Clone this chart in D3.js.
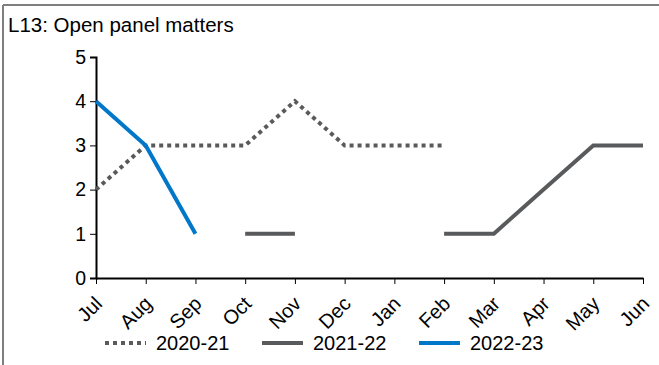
<!DOCTYPE html>
<html>
<head>
<meta charset="utf-8">
<script src="https://cdn.jsdelivr.net/npm/d3@7"></script>
<style>
  body { margin: 0; background: #fff; }
  text { font-family: "Liberation Sans", Arial, sans-serif; fill: #000; }
</style>
</head>
<body>
<svg id="chart" width="659" height="365"></svg>
<script>
const title = "L13: Open panel matters";
const months = ["Jul","Aug","Sep","Oct","Nov","Dec","Jan","Feb","Mar","Apr","May","Jun"];
const yTicks = [0, 1, 2, 3, 4, 5];
const s2020 = [2, 3, 3, 3, 4, 3, 3, 3, null, null, null, null];
const s2021 = [null, null, null, 1, 1, null, null, 1, 1, 2, 3, 3];
const s2022 = [4, 3, 1, null, null, null, null, null, null, null, null, null];
const seriesNames = ["2020-21", "2021-22", "2022-23"];

const series = [
  { name: seriesNames[0], values: s2020, color: "#595a5c", dash: "4,4" },
  { name: seriesNames[1], values: s2021, color: "#595a5c", dash: null },
  { name: seriesNames[2], values: s2022, color: "#0077c8", dash: null }
];

const svg = d3.select("#chart");

// frame
svg.append("line").attr("x1", 3).attr("x2", 659).attr("y1", 5).attr("y2", 5)
  .attr("stroke", "#7f7f7f").attr("stroke-width", 2);
svg.append("line").attr("x1", 3).attr("x2", 3).attr("y1", 5).attr("y2", 365)
  .attr("stroke", "#7f7f7f").attr("stroke-width", 2);

svg.append("text").attr("x", 8).attr("y", 32).attr("font-size", 20.5).text(title);

const x = d3.scalePoint().domain(months).range([96, 643]);
const y = d3.scaleLinear().domain([0, 5]).range([278, 57]);

// y axis
const yAxis = svg.append("g").attr("transform", "translate(96,0)")
  .call(d3.axisLeft(y).tickValues(yTicks).tickFormat(d3.format("d")).tickSize(6).tickPadding(4));
yAxis.select(".domain").attr("stroke", "#000").attr("stroke-width", 2);
yAxis.selectAll(".tick line").attr("stroke", "#000");
yAxis.selectAll(".tick text").attr("font-size", 19.5).attr("font-family", "Liberation Sans, Arial, sans-serif").attr("fill", "#000");

// x axis
const xAxis = svg.append("g").attr("transform", "translate(0,278)")
  .call(d3.axisBottom(x).tickSize(6).tickSizeOuter(0));
xAxis.select(".domain").attr("stroke", "#000").attr("stroke-width", 2);
xAxis.selectAll(".tick line").attr("stroke", "#000");
xAxis.selectAll(".tick text")
  .attr("font-size", 20)
  .attr("font-family", "Liberation Sans, Arial, sans-serif")
  .attr("fill", "#000")
  .attr("text-anchor", "end")
  .attr("dy", null)
  .attr("y", null)
  .attr("transform", "translate(7,27) rotate(-45)");

// lines
const line = d3.line()
  .defined(d => d.v !== null)
  .x(d => x(d.m))
  .y(d => y(d.v));

series.forEach(s => {
  const data = months.map((m, i) => ({ m, v: s.values[i] }));
  svg.append("path")
    .datum(data)
    .attr("d", line)
    .attr("fill", "none")
    .attr("stroke", s.color)
    .attr("stroke-width", 4)
    .attr("stroke-dasharray", s.dash)
    .attr("stroke-linejoin", "miter");
});

// legend
const legendX = [105, 262, 419];
const legend = svg.append("g");
series.forEach((s, i) => {
  const g = legend.append("g").attr("transform", `translate(${legendX[i]},343)`);
  g.append("line").attr("x1", 0).attr("x2", 41).attr("y1", 0).attr("y2", 0)
    .attr("stroke", s.color).attr("stroke-width", 4).attr("stroke-dasharray", s.dash);
  g.append("text").attr("x", 51).attr("y", 7).attr("font-size", 20).text(s.name);
});
</script>
</body>
</html>
